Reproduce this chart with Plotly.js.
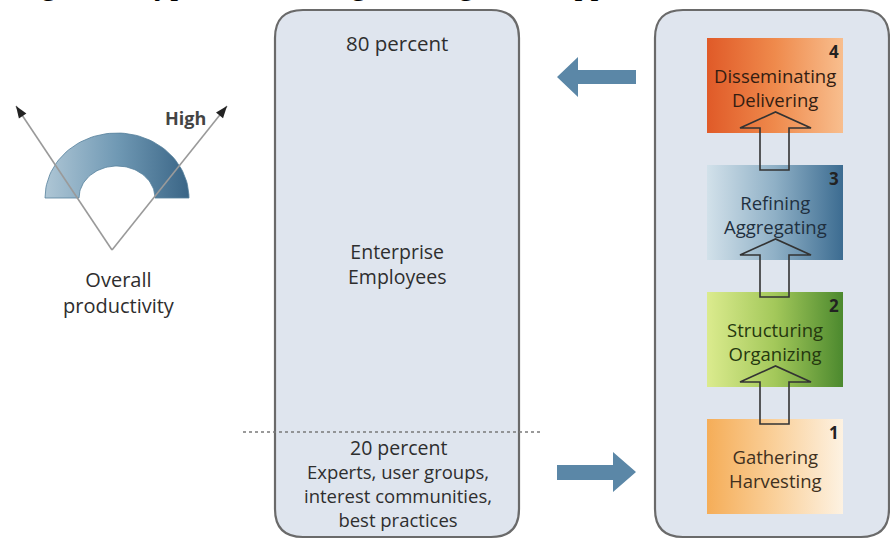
<!DOCTYPE html>
<html>
<head>
<meta charset="utf-8">
<script src="https://cdn.plot.ly/plotly-3.0.1.min.js"></script>
<style>html,body{margin:0;padding:0;background:#fff;overflow:hidden}#chart{width:890px;height:539px}</style>
</head>
<body>
<div id="chart"></div>
<script>
// ---- content ----
const captionText = 'Figure 1. Typical knowledge management approach';
const gaugeLabels = ['High', 'Overall<br>productivity'];
const groupLabels = ['80 percent', 'Enterprise<br>Employees', '20 percent', 'Experts, user groups,<br>interest communities,<br>best practices'];
const stageNumbers = ['1', '2', '3', '4'];
const stageLabels = ['Gathering<br>Harvesting', 'Structuring<br>Organizing', 'Refining<br>Aggregating', 'Disseminating<br>Delivering'];

// ---- styles ----
const stageScales = [
  [[0, '#f5ad58'], [0.5, '#fad09a'], [1, '#fdf2e2']],
  [[0, '#dbeb8e'], [0.5, '#a3c85a'], [1, '#4c892e']],
  [[0, '#d2e1ea'], [0.5, '#8fb0c6'], [1, '#3c6c91']],
  [[0, '#e05a28'], [0.5, '#ef8a4c'], [1, '#f8be8e']]
];
const stageText = ['#3f3020', '#25380f', '#1f3040', '#331d12'];
const FONT = 'Open Sans, Noto Sans, sans-serif';

// ---- geometry helpers ----
function roundRect(x0, y0, x1, y1, r) {
  return `M${x0 + r},${y0} L${x1 - r},${y0} Q${x1},${y0} ${x1},${y0 + r} L${x1},${y1 - r} Q${x1},${y1} ${x1 - r},${y1} L${x0 + r},${y1} Q${x0},${y1} ${x0},${y1 - r} L${x0},${y0 + r} Q${x0},${y0} ${x0 + r},${y0} Z`;
}
function poly(pts) { return 'M' + pts.map(p => p[0] + ',' + p[1]).join(' L') + ' Z'; }

const traces = [];
const shapes = [];
const annotations = [];

// panels
shapes.push({type: 'path', layer: 'below', path: roundRect(275, 10, 519, 537, 28), fillcolor: '#dfe5ee', line: {color: '#6a6a6a', width: 2.2}});
shapes.push({type: 'path', layer: 'below', path: roundRect(655, 10, 889, 537, 28), fillcolor: '#dfe5ee', line: {color: '#6a6a6a', width: 2.2}});

// gauge (half annulus)
const gc = [117, 198];
const gx = [], gy = [];
const N = 60;
for (let i = 0; i <= N; i++) { const a = Math.PI - Math.PI * i / N; gx.push(gc[0] + 72 * Math.cos(a)); gy.push(gc[1] - 65 * Math.sin(a)); }
for (let i = 0; i <= N; i++) { const a = Math.PI * i / N; gx.push(gc[0] + 38 * Math.cos(a)); gy.push(gc[1] - 32 * Math.sin(a)); }
gx.push(gx[0]); gy.push(gy[0]);
traces.push({x: gx, y: gy, type: 'scatter', mode: 'lines', fill: 'toself', line: {width: 0.8, color: '#56809c'},
  fillgradient: {type: 'horizontal', colorscale: [[0, '#aec6d5'], [0.5, '#7099b4'], [1, '#3a6586']]}, hoverinfo: 'skip'});

// V lines with arrowheads
const vtx = [112, 250];
const tips = [[16, 106], [227, 106]];
tips.forEach(t => {
  shapes.push({type: 'line', x0: vtx[0], y0: vtx[1], x1: t[0], y1: t[1], line: {color: '#9a9a9a', width: 1.6}});
  const dx = t[0] - vtx[0], dy = t[1] - vtx[1], L = Math.hypot(dx, dy);
  const ux = dx / L, uy = dy / L, nx = -uy, ny = ux;
  const bx = t[0] - 12 * ux, by = t[1] - 12 * uy;
  shapes.push({type: 'path', path: poly([t, [bx + 4.5 * nx, by + 4.5 * ny], [bx - 4.5 * nx, by - 4.5 * ny]]), fillcolor: '#222', line: {width: 0}});
});

// stage boxes
const boxX0 = 707, boxX1 = 843, boxH = 95;
const boxTops = [419, 292, 165, 38];
stageLabels.forEach((lab, i) => {
  const t = boxTops[i], b = t + boxH;
  traces.push({x: [boxX0, boxX1, boxX1, boxX0, boxX0], y: [t, t, b, b, t], type: 'scatter', mode: 'lines', fill: 'toself',
    line: {width: 0, color: 'rgba(0,0,0,0)'}, fillgradient: {type: 'horizontal', colorscale: stageScales[i]}, hoverinfo: 'skip'});
  annotations.push({x: (boxX0 + boxX1) / 2, y: t + boxH / 2 + 1.5, text: lab, showarrow: false, xanchor: 'center', yanchor: 'middle',
    font: {family: FONT, size: 18.5, color: stageText[i]}});
  annotations.push({x: boxX1 - 9, y: t + 13, text: '<b>' + stageNumbers[i] + '</b>', showarrow: false, xanchor: 'center', yanchor: 'middle',
    font: {family: FONT, size: 17, color: '#222'}});
});

// hollow up-arrows between boxes
for (let i = 0; i < 3; i++) {
  const lowerTop = boxTops[i], upperBottom = boxTops[i + 1] + boxH;
  const apex = upperBottom - 21, base = upperBottom - 5, sb = lowerTop + 5;
  shapes.push({type: 'path', layer: 'above', path: poly([[760, sb], [760, base], [740, base], [775.5, apex], [811, base], [789, base], [789, sb]]),
    fillcolor: 'rgba(0,0,0,0)', line: {color: '#333', width: 1.6}});
}

// block arrows
const arrowCol = '#5b87a7';
shapes.push({type: 'path', path: poly([[557, 77], [578, 57], [578, 70], [636, 70], [636, 84], [578, 84], [578, 97]]), fillcolor: arrowCol, line: {width: 0}});
shapes.push({type: 'path', path: poly([[557, 465], [613, 465], [613, 452], [636, 472], [613, 492], [613, 480], [557, 480]]), fillcolor: arrowCol, line: {width: 0}});

// dotted divider
shapes.push({type: 'line', x0: 243, x1: 542, y0: 432, y1: 432, line: {color: '#7a7a7a', width: 1.5, dash: 'dot'}});

// texts
const txt = '#2e2e2e';
annotations.push({x: 185, y: 118, text: '<b>' + gaugeLabels[0] + '</b>', showarrow: false, font: {family: FONT, size: 18, color: '#444'}});
annotations.push({x: 119, y: 292, text: gaugeLabels[1], showarrow: false, font: {family: FONT, size: 20, color: txt}});
annotations.push({x: 397, y: 43, text: groupLabels[0], showarrow: false, font: {family: FONT, size: 20.5, color: txt}});
annotations.push({x: 397, y: 264, text: groupLabels[1], showarrow: false, font: {family: FONT, size: 19.5, color: txt}});
annotations.push({x: 398, y: 447, text: groupLabels[2], showarrow: false, font: {family: FONT, size: 19.5, color: txt}});
annotations.push({x: 398, y: 495, text: groupLabels[3], showarrow: false, font: {family: FONT, size: 18.5, color: txt}});

// clipped caption at the very top
annotations.push({x: 12, y: 3.5, text: captionText, showarrow: false, xanchor: 'left', yanchor: 'bottom',
  font: {family: 'Liberation Serif, Times New Roman, serif', size: 32, color: '#000'}});

const layout = {
  width: 890, height: 539,
  margin: {l: 0, r: 0, t: 0, b: 0},
  paper_bgcolor: '#ffffff', plot_bgcolor: '#ffffff',
  showlegend: false,
  xaxis: {range: [0, 890], visible: false, fixedrange: true},
  yaxis: {range: [539, 0], visible: false, fixedrange: true},
  shapes: shapes,
  annotations: annotations
};
Plotly.newPlot('chart', traces, layout, {staticPlot: true, displayModeBar: false});
</script>
</body>
</html>
